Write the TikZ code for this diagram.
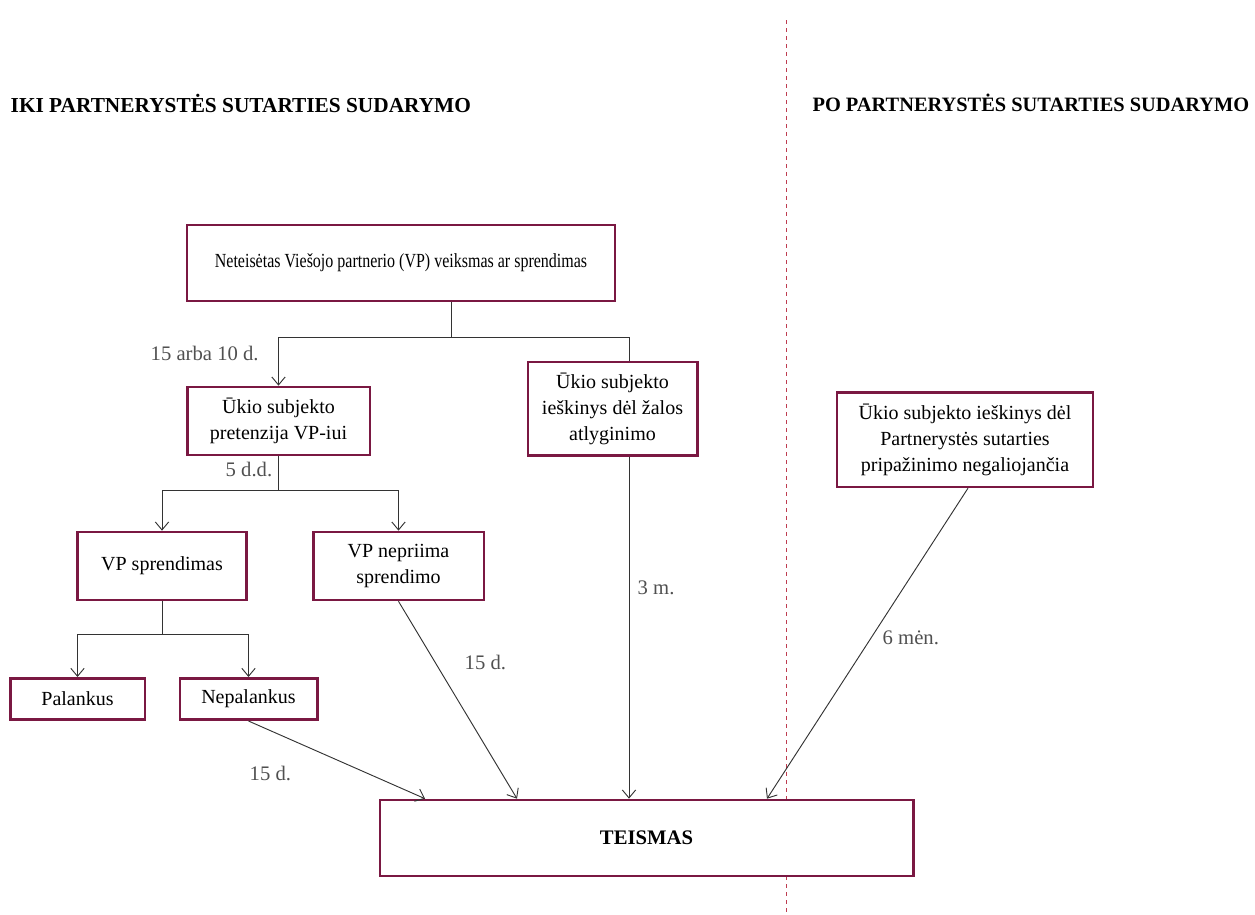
\documentclass[tikz,border=0pt]{standalone}
\usepackage{fontspec}
\setmainfont{Liberation Serif}
\newfontfamily\narrowserif[FakeStretch=0.80]{Liberation Serif}
\usepackage{tikz}
\usetikzlibrary{arrows.meta,positioning,calc}

\definecolor{boxred}{RGB}{122,24,66}
\definecolor{linered}{RGB}{190,60,80}
\definecolor{labelgray}{RGB}{80,80,80}

\tikzset{
  stagebox/.style={draw=boxred, line width=2pt, fill=white, align=center,
    inner sep=0pt, font=\fontsize{15}{19.5}\selectfont},
  flow/.style={draw=black!80, line width=0.7pt},
  daylabel/.style={text=labelgray, anchor=west, font=\fontsize{15.5}{18}\selectfont},
  heading/.style={font=\fontsize{16}{19}\selectfont\bfseries}
}

\begin{document}
\begin{tikzpicture}[x=0.75pt, y=-0.75pt, >={Straight Barb[length=6pt,width=10pt]}]
  \useasboundingbox (0,0) rectangle (1255,914);

  % Divider and headings
  \draw[linered, dashed, line width=0.7pt] (786,20) -- (786,914);
  \node[heading, anchor=west] (hleft) at (6,103) {IKI PARTNERYSTĖS SUTARTIES SUDARYMO};
  \node[heading, anchor=east, font=\fontsize{15.3}{19}\selectfont\bfseries] (hright) at (1254,103)
    {PO PARTNERYSTĖS SUTARTIES SUDARYMO};

  % Boxes
  \node[stagebox, minimum width=321pt, minimum height=57pt, font=\fontsize{15}{19}\narrowserif] (act) at (401,263)
    {Neteisėtas Viešojo partnerio (VP) veiksmas ar sprendimas};
  \node[stagebox, minimum width=137pt, minimum height=51pt] (claim) at (278.5,421)
    {Ūkio subjekto\\pretenzija VP-iui};
  \node[stagebox, minimum width=127pt, minimum height=70pt] (damages) at (612.5,408.5)
    {Ūkio subjekto\\ieškinys dėl žalos\\atlyginimo};
  \node[stagebox, minimum width=127pt, minimum height=51pt] (decision) at (162,566)
    {VP sprendimas};
  \node[stagebox, minimum width=128pt, minimum height=51pt] (nodecision) at (398.5,566)
    {VP nepriima\\sprendimo};
  \node[stagebox, minimum width=101pt, minimum height=31pt] (favour) at (77.5,699)
    {Palankus};
  \node[stagebox, minimum width=103pt, minimum height=31pt] (unfavour) at (248.5,699)
    {Nepalankus};
  \node[stagebox, minimum width=192pt, minimum height=71pt] (invalid) at (965,439.5)
    {Ūkio subjekto ieškinys dėl\\Partnerystės sutarties\\pripažinimo negaliojančia};
  \node[stagebox, minimum width=400pt, minimum height=57pt, font=\fontsize{15.5}{19}\selectfont\bfseries] (court) at (646.5,838)
    {TEISMAS};

  % Branch points
  \coordinate (split1) at (451,337);
  \coordinate (split1r) at (629,337);
  \coordinate (split2) at (278.5,490);
  \coordinate (split3) at (162,634);

  % Tree connectors
  \draw[flow] (split1 |- act.south) -- (split1);
  \draw[flow, ->] (split1) -| (claim.north);
  \draw[flow] (split1) -- (split1r) -- (split1r |- damages.north);
  \draw[flow] (claim.south) -- (split2);
  \draw[flow, ->] (split2) -| (decision.north);
  \draw[flow, ->] (split2) -| (nodecision.north);
  \draw[flow] (decision.south) -- (split3);
  \draw[flow, ->] (split3) -| (favour.north);
  \draw[flow, ->] (split3) -| (unfavour.north);

  % Connectors to the court
  \draw[flow, ->] (unfavour.south) -- (court.north -| 425,0);
  \draw[flow, ->] (nodecision.south) -- (court.north -| 517,0);
  \draw[flow, ->] (split1r |- damages.south) -- (split1r |- court.north);
  \draw[flow, ->] (invalid.south -| 968,0) -- (court.north -| 767,0);

  % Time limits
  \node[daylabel] (l1) at (146,353) {15 arba 10 d.};
  \node[daylabel] (l2) at (221,469) {5 d.d.};
  \node[daylabel] (l3) at (460,662) {15 d.};
  \node[daylabel] (l4) at (245,773) {15 d.};
  \node[daylabel] (l5) at (633,588) {3 m.};
  \node[daylabel] (l6) at (878,638) {6 mėn.};
\end{tikzpicture}
\end{document}
